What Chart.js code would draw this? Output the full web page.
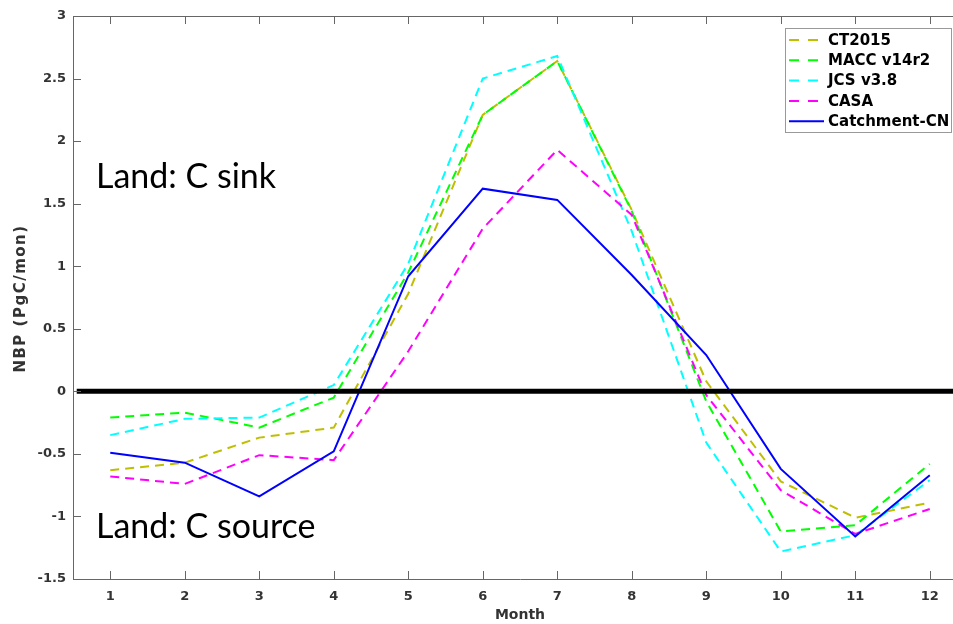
<!DOCTYPE html>
<html>
<head>
<meta charset="utf-8">
<script src="https://cdn.jsdelivr.net/npm/chart.js@4/dist/chart.umd.min.js"></script>
<style>
  html, body { margin: 0; padding: 0; background: #fff; overflow: hidden; }
  #wrap { width: 953px; height: 624px; overflow: hidden; }
</style>
</head>
<body>
<div id="wrap"><canvas id="nbp" width="968" height="624"></canvas></div>
<script>
// month axis and values (PgC/mon)
const months = [1, 2, 3, 4, 5, 6, 7, 8, 9, 10, 11, 12];
const yTicks = [-1.5, -1, -0.5, 0, 0.5, 1, 1.5, 2, 2.5, 3];

const ct2015    = [-0.63, -0.57, -0.37, -0.29, 0.78, 2.21, 2.64, 1.45, 0.08, -0.72, -1.01, -0.89];
const maccV14r2 = [-0.21, -0.17, -0.29, -0.05, 0.95, 2.21, 2.64, 1.44, -0.08, -1.12, -1.07, -0.58];
const jcsV38    = [-0.35, -0.22, -0.21, 0.05, 1.02, 2.50, 2.68, 1.28, -0.41, -1.28, -1.15, -0.71];
const casa      = [-0.68, -0.74, -0.51, -0.55, 0.32, 1.30, 1.93, 1.41, -0.03, -0.79, -1.14, -0.94];
const catchment = [-0.49, -0.57, -0.84, -0.48, 0.92, 1.62, 1.53, 0.93, 0.29, -0.62, -1.16, -0.67];

// the thick zero reference line
const zeroX = [0.55, 12.5];
const zeroY = [0, 0];

const seriesColors = {
    ct2015: '#bfbf00',     // olive
    macc: '#00ff00',       // green
    jcs: '#00ffff',        // cyan
    casa: '#ff00ff',       // magenta
    catchment: '#0000ff'   // blue
};

const toPoints = (xs, ys) => xs.map((x, i) => ({ x: x, y: ys[i] }));

const makeLine = (label, values, color, dashed, order) => ({
    label: label,
    data: toPoints(months, values),
    borderColor: color,
    backgroundColor: color,
    borderWidth: 2,
    borderDash: dashed ? [9, 6] : [],
    pointRadius: 0,
    fill: false,
    tension: 0,
    order: order
});

const datasets = [
    makeLine('CT2015', ct2015, seriesColors.ct2015, true, 5),
    makeLine('MACC v14r2', maccV14r2, seriesColors.macc, true, 4),
    makeLine('JCS v3.8', jcsV38, seriesColors.jcs, true, 3),
    makeLine('CASA', casa, seriesColors.casa, true, 2),
    makeLine('Catchment-CN', catchment, seriesColors.catchment, false, 1),
    {
        label: 'zero',
        data: toPoints(zeroX, zeroY),
        borderColor: '#000',
        borderWidth: 5,
        pointRadius: 0,
        fill: false,
        order: 0,
        isRef: true
    }
];

const axisGray = '#666';
const tickFont = { family: 'DejaVu Sans', size: 13, weight: 'bold' };

// MATLAB style box: inward ticks, top border, inside legend, text labels
const matlabBox = {
    id: 'matlabBox',
    afterDraw(chart) {
        const ctx = chart.ctx;
        const a = chart.chartArea;
        const xs = chart.scales.x, ys = chart.scales.y;
        ctx.save();
        ctx.strokeStyle = axisGray;
        ctx.lineWidth = 1;
        ctx.beginPath();
        ctx.moveTo(a.left, a.top + 0.5);
        ctx.lineTo(a.right, a.top + 0.5);
        ctx.stroke();
        ctx.beginPath();
        months.forEach(m => {
            const px = Math.round(xs.getPixelForValue(m)) + 0.5;
            ctx.moveTo(px, a.bottom); ctx.lineTo(px, a.bottom - 8);
            ctx.moveTo(px, a.top); ctx.lineTo(px, a.top + 8);
        });
        yTicks.forEach(v => {
            const py = Math.round(ys.getPixelForValue(v)) + 0.5;
            ctx.moveTo(a.left, py); ctx.lineTo(a.left + 8, py);
        });
        ctx.stroke();

        // y axis title, a little spaced like the original
        ctx.save();
        ctx.translate(21, (a.top + a.bottom) / 2 + 1);
        ctx.rotate(-Math.PI / 2);
        ctx.font = 'bold 15px "DejaVu Sans"';
        ctx.letterSpacing = '1.5px';
        ctx.fillStyle = '#333';
        ctx.textAlign = 'center';
        ctx.textBaseline = 'middle';
        ctx.fillText('NBP (PgC/mon)', 0, 0);
        ctx.restore();

        // annotations
        ctx.fillStyle = '#000';
        ctx.font = '34px Lato';
        ctx.textAlign = 'left';
        ctx.textBaseline = 'alphabetic';
        ctx.fillText('Land: C sink', 96, 188);
        ctx.fillText('Land: C source', 96, 538);

        // legend
        const bx = 785, by = 28, bw = 166, bh = 104;
        ctx.fillStyle = '#fff';
        ctx.fillRect(bx, by, bw, bh);
        ctx.strokeStyle = '#999';
        ctx.strokeRect(bx + 0.5, by + 0.5, bw, bh);
        ctx.font = 'bold 15px "DejaVu Sans"';
        ctx.textBaseline = 'middle';
        chart.data.datasets.filter(d => !d.isRef).forEach((d, i) => {
            const y = 40 + i * 20.3;
            ctx.strokeStyle = d.borderColor;
            ctx.lineWidth = 2;
            ctx.setLineDash(d.borderDash.length ? [10, 9] : []);
            ctx.beginPath();
            ctx.moveTo(789, y);
            ctx.lineTo(824, y);
            ctx.stroke();
            ctx.setLineDash([]);
            ctx.fillStyle = '#000';
            ctx.fillText(d.label, 828, y + 1);
        });
        ctx.restore();
    }
};

new Chart(document.getElementById('nbp').getContext('2d'), {
    type: 'line',
    data: { datasets },
    options: {
        responsive: false,
        animation: false,
        layout: { padding: { top: 16, right: 1, left: 0, bottom: 0 } },
        plugins: { legend: { display: false }, tooltip: { enabled: false } },
        scales: {
            x: {
                type: 'linear',
                min: 0.5,
                max: 12.5,
                afterBuildTicks: s => { s.ticks = months.map(v => ({ value: v })); },
                afterFit: s => { s.height = 45; },
                grid: { drawOnChartArea: false, drawTicks: false },
                border: { display: true, color: axisGray, width: 1 },
                ticks: { color: '#333', font: tickFont, padding: 10, maxRotation: 0 },
                title: {
                    display: true, text: 'Month', color: '#333',
                    font: { family: 'DejaVu Sans', size: 14, weight: 'bold' },
                    padding: { top: 0, bottom: 0 }
                }
            },
            y: {
                type: 'linear',
                min: -1.5,
                max: 3,
                afterBuildTicks: s => { s.ticks = yTicks.map(v => ({ value: v })); },
                afterFit: s => { s.width = 73; },
                grid: { drawOnChartArea: false, drawTicks: false },
                border: { display: true, color: axisGray, width: 1 },
                ticks: {
                    color: '#333', font: tickFont, padding: 7,
                    callback: v => String(v)
                },
                title: { display: false }
            }
        }
    },
    plugins: [matlabBox]
});
</script>
</body>
</html>
